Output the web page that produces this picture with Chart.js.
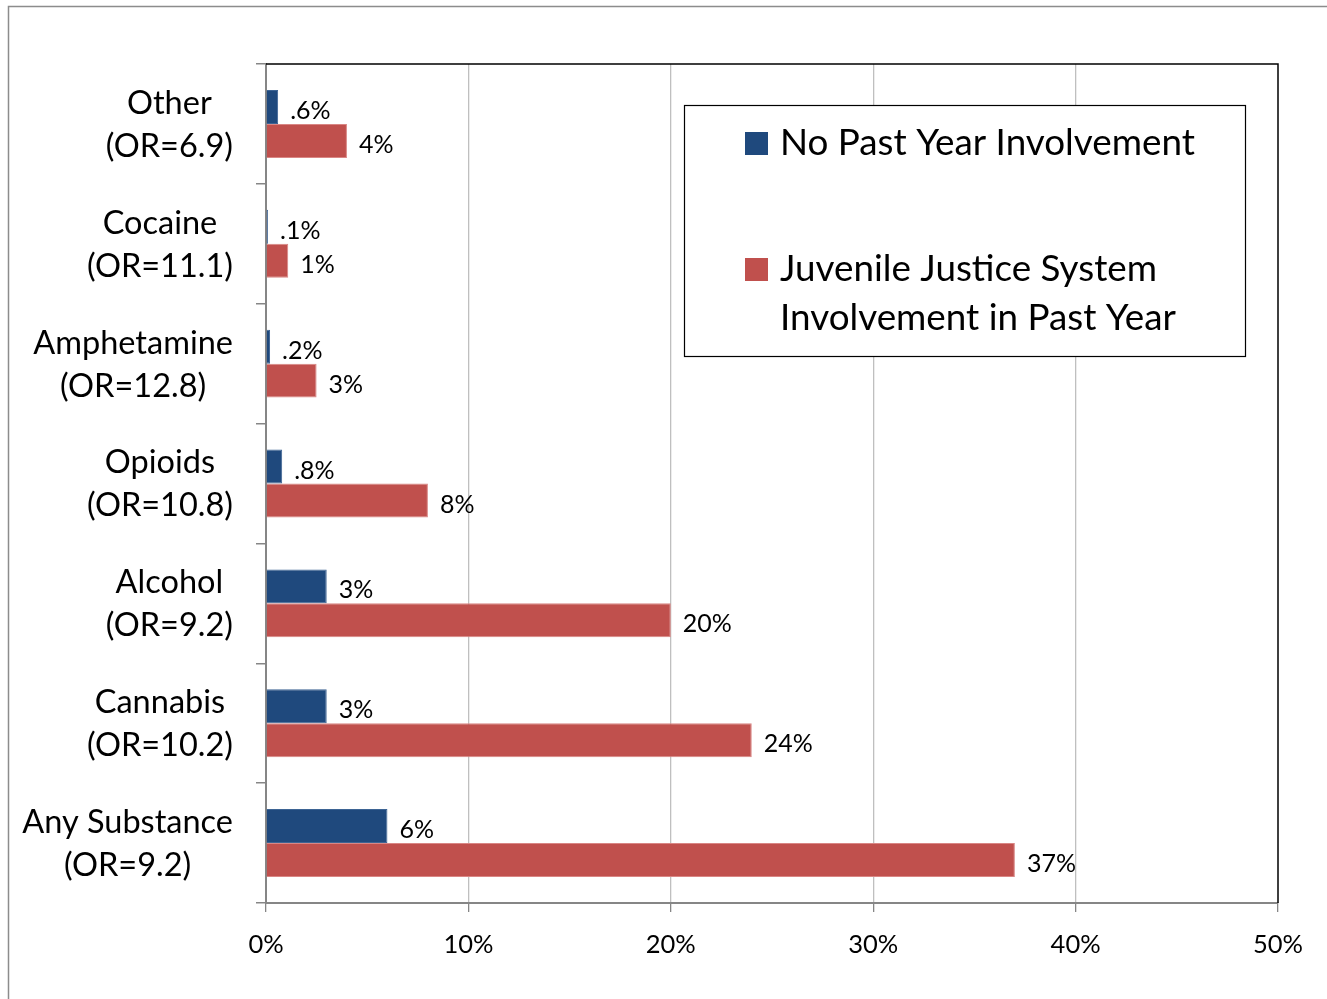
<!DOCTYPE html>
<html>
<head>
<meta charset="utf-8">
<script src="https://cdn.jsdelivr.net/npm/chart.js@4"></script>
<style>
  html, body { margin: 0; padding: 0; background: #fff; }
  canvas { display: block; }
</style>
</head>
<body>
<canvas id="grafico" width="1327" height="999"></canvas>
<script>
const categorias = ["Other", "Cocaine", "Amphetamine", "Opioids", "Alcohol", "Cannabis", "Any Substance"];
const oddsRatios = ["6.9", "11.1", "12.8", "10.8", "9.2", "10.2", "9.2"];
const sinInvolucrar = [0.6, 0.1, 0.2, 0.8, 3.0, 3.0, 6.0];
const involucrados = [4.0, 1.1, 2.5, 8.0, 20.0, 24.0, 37.0];
const etiquetasAzul = [".6%", ".1%", ".2%", ".8%", "3%", "3%", "6%"];
const etiquetasRojo = ["4%", "1%", "3%", "8%", "20%", "24%", "37%"];
const serieNombres = ["No Past Year Involvement", ["Juvenile Justice System", "Involvement in Past Year"]];
const ticksX = [0, 10, 20, 30, 40, 50];

const FUENTE = "Lato, 'Open Sans', sans-serif";
const AZUL = "#1f497d";
const ROJO = "#c0504d";

// marco exterior gris y fondo blanco
const marco = {
    id: "marco",
    beforeDraw(chart) {
        const ctx = chart.ctx;
        ctx.save();
        ctx.fillStyle = "#fff";
        ctx.fillRect(0, 0, chart.width, chart.height);
        ctx.strokeStyle = "#8c8c8c";
        ctx.lineWidth = 1.5;
        ctx.beginPath();
        ctx.moveTo(8.5, chart.height);
        ctx.lineTo(8.5, 6.5);
        ctx.lineTo(chart.width, 6.5);
        ctx.stroke();
        ctx.restore();
    },
    afterDraw(chart) {
        // borde superior y derecho del area de trazado
        const a = chart.chartArea, ctx = chart.ctx;
        ctx.save();
        ctx.strokeStyle = "#000";
        ctx.lineWidth = 1.5;
        ctx.beginPath();
        ctx.moveTo(a.left, a.top);
        ctx.lineTo(a.right, a.top);
        ctx.lineTo(a.right, a.bottom);
        ctx.stroke();
        ctx.restore();
    }
};

// etiquetas de categorias: bloque alineado a la derecha, lineas centradas
const etiquetasCategoria = {
    id: "etiquetasCategoria",
    afterDraw(chart) {
        const ctx = chart.ctx, y = chart.scales.y;
        ctx.save();
        ctx.font = "32.5px " + FUENTE;
        ctx.fillStyle = "#000";
        ctx.textAlign = "center";
        ctx.textBaseline = "middle";
        const derecha = 233, alto = 43;
        chart.data.labels.forEach((lineas, i) => {
            const anchoMax = Math.max(...lineas.map(l => ctx.measureText(l).width));
            const cx = derecha - anchoMax / 2;
            const cy = y.getPixelForTick(i) + 1;
            lineas.forEach((l, k) => {
                ctx.fillText(l, cx, cy + (k - (lineas.length - 1) / 2) * alto);
            });
        });
        ctx.restore();
    }
};

// etiquetas de valores al final de cada barra
const etiquetasValor = {
    id: "etiquetasValor",
    afterDatasetsDraw(chart) {
        const ctx = chart.ctx;
        const textos = [etiquetasAzul, etiquetasRojo];
        ctx.save();
        ctx.font = "25px " + FUENTE;
        ctx.fillStyle = "#000";
        ctx.textAlign = "left";
        ctx.textBaseline = "middle";
        chart.data.datasets.forEach((ds, d) => {
            chart.getDatasetMeta(d).data.forEach((barra, i) => {
                ctx.fillText(textos[d][i], barra.x + 12, barra.y + 4);
            });
        });
        ctx.restore();
    }
};

// leyenda en caja
const leyendaCaja = {
    id: "leyendaCaja",
    afterDraw(chart) {
        const ctx = chart.ctx;
        ctx.save();
        ctx.fillStyle = "#fff";
        ctx.fillRect(684, 105, 561, 251);
        ctx.strokeStyle = "#000";
        ctx.lineWidth = 1.2;
        ctx.strokeRect(684.5, 105.5, 561, 251);
        ctx.font = "36.8px " + FUENTE;
        ctx.textAlign = "left";
        ctx.textBaseline = "middle";
        const filas = [143, 269];
        chart.data.datasets.forEach((ds, d) => {
            ctx.fillStyle = ds.backgroundColor;
            ctx.fillRect(745, filas[d] - 11, 23, 23);
            ctx.fillStyle = "#000";
            const lineas = [].concat(serieNombres[d]);
            lineas.forEach((l, k) => ctx.fillText(l, 780, filas[d] + k * 49));
        });
        ctx.restore();
    }
};

new Chart(document.getElementById("grafico"), {
    type: "bar",
    data: {
        labels: categorias.map((c, i) => [c, "(OR=" + oddsRatios[i] + ")"]),
        datasets: [
            { label: "No Past Year Involvement", data: sinInvolucrar, backgroundColor: AZUL,
              borderColor: "#3d6494", borderWidth: 1, categoryPercentage: 0.567, barPercentage: 1.0 },
            { label: "Juvenile Justice System Involvement in Past Year", data: involucrados, backgroundColor: ROJO,
              borderColor: "#d98684", borderWidth: 1, categoryPercentage: 0.567, barPercentage: 1.0 }
        ]
    },
    options: {
        indexAxis: "y",
        responsive: false,
        animation: false,
        layout: { padding: { top: 64, right: 49, left: 0, bottom: 0 } },
        scales: {
            x: {
                min: 0, max: 50,
                afterBuildTicks: (s) => { s.ticks = ticksX.map(v => ({ value: v })); },
                afterFit: (s) => { s.height = 96; },
                ticks: {
                    callback: (v) => v + "%",
                    color: "#000",
                    font: { family: FUENTE, size: 25.5 },
                    padding: 17,
                    maxRotation: 0
                },
                grid: {
                    color: (c) => c.tick && (c.tick.value === 0 || c.tick.value === 50) ? "rgba(0,0,0,0)" : "#bfbfbf",
                    tickColor: "#868686",
                    tickLength: 9,
                    lineWidth: 1.3
                },
                border: { color: "#868686", width: 2 }
            },
            y: {
                afterFit: (s) => { s.width = 266; },
                ticks: { display: false },
                grid: {
                    offset: true,
                    drawOnChartArea: false,
                    tickColor: "#868686",
                    tickLength: 10,
                    lineWidth: 1.5
                },
                border: { color: "#868686", width: 2 }
            }
        },
        plugins: {
            legend: { display: false },
            tooltip: { enabled: false }
        }
    },
    plugins: [marco, etiquetasCategoria, etiquetasValor, leyendaCaja]
});
</script>
</body>
</html>
